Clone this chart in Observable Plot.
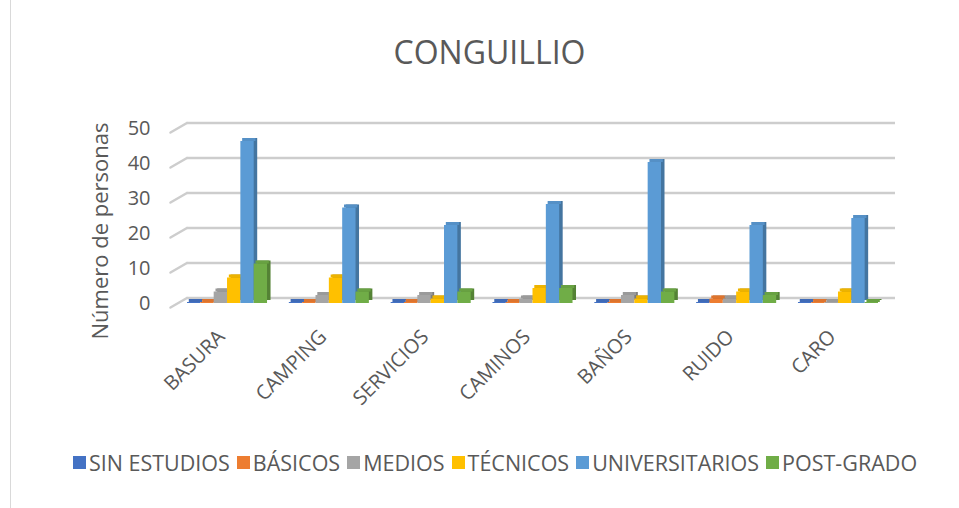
<!DOCTYPE html>
<html>
<head>
<meta charset="utf-8">
<script src="https://cdn.jsdelivr.net/npm/d3@7"></script>
<script src="https://cdn.jsdelivr.net/npm/@observablehq/plot@0.6"></script>
<style>
  body { margin: 0; background: #fff; font-family: "Open Sans", sans-serif; }
  #wrap { position: relative; width: 959px; height: 508px; overflow: hidden; background: #fff; }
  #border { position: absolute; left: 10px; top: 0; width: 0; height: 508px; border-left: 1px solid #d9d9d9; }
  #title { position: absolute; left: 20px; top: 36px; width: 939px; text-align: center; font-size: 32px; line-height: 32px; color: #595959; }
  #chart { position: absolute; left: 0; top: 90px; }
  #legend { position: absolute; left: 38px; top: 446px; width: 921px; }
  #legend > div { justify-content: center !important; font-family: "Open Sans", sans-serif !important; font-size: 21.5px !important; color: #595959 !important; }
  #legend span { margin-right: 7px !important; font-size: 21.5px !important; }
  #legend svg { margin-right: 3px !important; }
</style>
</head>
<body>
<div id="wrap">
  <div id="border"></div>
  <div id="title">CONGUILLIO</div>
  <div id="chart"></div>
  <div id="legend"></div>
</div>
<script>
const categories = ["BASURA", "CAMPING", "SERVICIOS", "CAMINOS", "BAÑOS", "RUIDO", "CARO"];
const series = ["SIN ESTUDIOS", "BÁSICOS", "MEDIOS", "TÉCNICOS", "UNIVERSITARIOS", "POST-GRADO"];
const sinEstudios    = [0, 0, 0, 0, 0, 0, 0];
const basicos        = [0, 0, 0, 0, 0, 1, 0];
const medios         = [3, 2, 2, 1, 2, 1, 0];
const tecnicos       = [7, 7, 1, 4, 1, 3, 3];
const universitarios = [46, 27, 22, 28, 40, 22, 24];
const postGrado      = [11, 3, 3, 4, 3, 2, 0];
const yTicks = [0, 10, 20, 30, 40, 50];
const colors = ["#4472C4", "#ED7D31", "#A5A5A5", "#FFC000", "#5B9BD5", "#70AD47"];
const yLabel = "Número de personas";

const seriesValues = [sinEstudios, basicos, medios, tecnicos, universitarios, postGrado];
const rows = categories.flatMap((c, ci) => series.map((s, si) => ({cat: c, serie: s, value: seriesValues[si][ci]})));

const W = 959, H = 340, mL = 170, mR = 64, mT = 38, mB = 127;
const pIn = 0.214, pOut = 0.167;
const step = (W - mL - mR) / (categories.length - pIn + 2 * pOut);
const bw = step * (1 - pIn);
const barW = bw / series.length;

const gridShape = {draw(context, l) { context.moveTo(0, 0); context.lineTo(0, -l); }};

const marks = [
  Plot.vector(yTicks, {y: d => d, frameAnchor: "left", anchor: "start", length: 19, rotate: 60, shape: gridShape, stroke: "#cdcdcd", strokeWidth: 2.5, dy: 4}),
  Plot.ruleY(yTicks, {y: d => d, stroke: "#cdcdcd", strokeWidth: 2.5, dy: -5.5, insetLeft: 16.5})
];

series.forEach((s, si) => {
  const d = rows.filter(r => r.serie === s);
  const base = d3.color(colors[si]);
  const inL = si * barW, inR = (series.length - 1 - si) * barW;
  const common = {x: "cat", y1: 0, y2: "value", insetLeft: inL, insetRight: inR};
  marks.push(Plot.barY(d, {...common, insetTop: -1, fill: base.darker(0.8).formatHex(), dx: 3.5, dy: -3}));
  marks.push(Plot.barY(d, {x: "cat", y1: "value", y2: "value", insetLeft: inL, insetRight: inR, insetTop: -4, insetBottom: 1, fill: base.darker(0.2).formatHex(), dx: 1.8}));
  marks.push(Plot.barY(d, {...common, insetTop: -1, fill: colors[si]}));
});

marks.push(Plot.axisY(yTicks, {tickSize: 0, tickPadding: 20, fontSize: 20, label: null}));
marks.push(Plot.axisX({tickRotate: -45, tickSize: 0, tickPadding: 22, fontSize: 20, label: null, dx: -6, dy: 8}));
marks.push(Plot.text([yLabel], {text: d => d, frameAnchor: "left", textAnchor: "middle", rotate: -90, dx: -70, dy: 15, fontSize: 22, fill: "#595959"}));

const chart = Plot.plot({
  width: W, height: H,
  marginLeft: mL, marginRight: mR, marginTop: mT, marginBottom: mB,
  x: {domain: categories, paddingInner: pIn, paddingOuter: pOut, round: false},
  y: {domain: [0, 50]},
  style: {fontFamily: "Open Sans, sans-serif", color: "#595959", background: "transparent", overflow: "visible"},
  marks
});
document.getElementById("chart").appendChild(chart);

const legend = Plot.legend({
  color: {type: "ordinal", domain: series, range: colors},
  legend: "swatches",
  swatchSize: 13
});
document.getElementById("legend").appendChild(legend);
</script>
</body>
</html>
